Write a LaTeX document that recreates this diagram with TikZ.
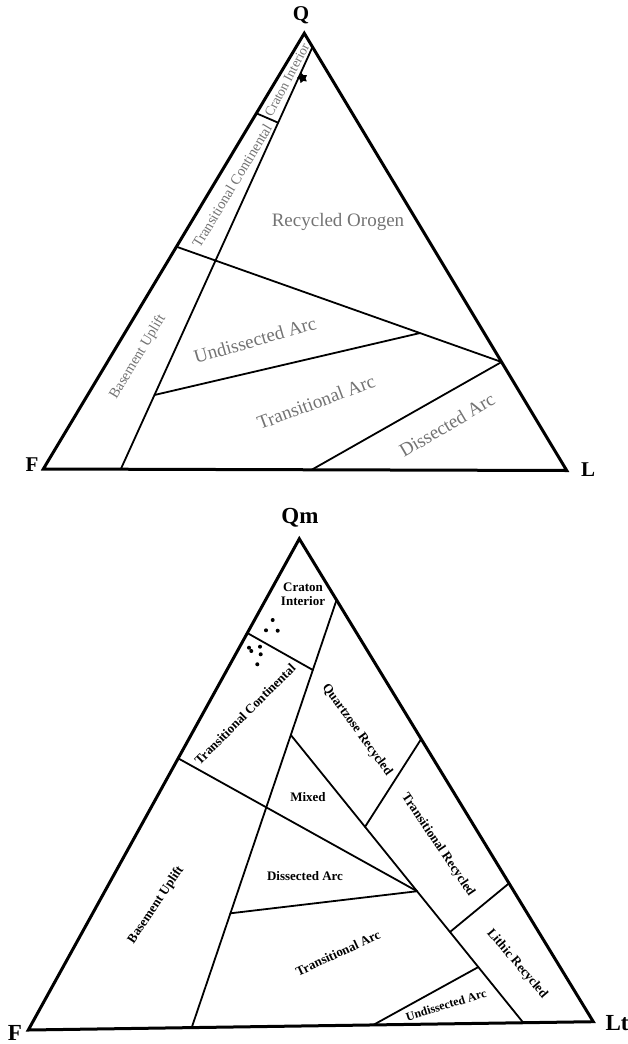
\documentclass[tikz,border=0pt]{standalone}
\usepackage{fontspec}
\setmainfont{Liberation Serif}
\usetikzlibrary{calc,shapes.geometric}
\begin{document}
\begin{tikzpicture}[x=1pt,y=-1pt,
  outer/.style={line width=3pt,line join=miter,line cap=round},
  inner/.style={line width=1.8pt,line cap=round},
  corner/.style={font=\fontsize{21}{21}\selectfont\bfseries, inner sep=0pt},
  glab/.style={text=black!55, inner sep=0pt, font=\fontsize{19}{19}\selectfont},
  gsmall/.style={text=black!55, inner sep=0pt, font=\fontsize{14.5}{14.5}\selectfont},
  blab/.style={inner sep=0pt, font=\fontsize{13}{14}\selectfont\bfseries, align=center},
  pt/.style={circle, fill=black, inner sep=0pt, minimum size=4pt}
]
\useasboundingbox (0,0) rectangle (628,1044);
% ---------------- top triangle (QFL) ----------------
\coordinate (F1) at (43.3,469);
\coordinate (L1) at (566.7,470.5);
\coordinate (Q1) at (304.3,33.3);
\coordinate (T1) at ($(Q1)!0.0313!(L1)$);
\coordinate (B1) at ($(F1)!0.148!(L1)$);
\coordinate (C1a) at ($(Q1)!0.1836!(F1)$);
\coordinate (C1b) at ($(T1)!0.1793!(B1)$);
\coordinate (R1a) at ($(Q1)!0.4898!(F1)$);
\coordinate (R1b) at ($(Q1)!0.7518!(L1)$);
\coordinate (U1a) at ($(T1)!0.8242!(B1)$);
\coordinate (U1b) at ($(R1a)!0.749!(R1b)$);
\coordinate (D1) at ($(F1)!0.5128!(L1)$);
\draw[inner] (T1) -- (B1);
\draw[inner] (C1a) -- (C1b);
\draw[inner] (R1a) -- (R1b);
\draw[inner] (U1a) -- (U1b);
\draw[inner] (R1b) -- (D1);
\draw[outer] (F1) -- (L1) -- (Q1) -- cycle;
\node[corner] (Qlab) at (301,15) {Q};
\node[corner] (Flab) at (32,465) {F};
\node[corner] (Llab) at (588,470) {L};
\node[gsmall, font=\fontsize{13.5}{13.5}\selectfont, rotate=62] (ci1) at (287,80) {Craton Interior};
\node[gsmall, rotate=59] (tc1) at (232,186) {Transitional Continental};
\node[glab] (ro1) at (338,222) {Recycled Orogen};
\node[gsmall, rotate=59] (bu1) at (138,357) {Basement Uplift};
\node[glab, rotate=16] (ua1) at (255,340) {Undissected Arc};
\node[glab, rotate=20.5] (ta1) at (316,402) {Transitional Arc};
\node[glab, rotate=30.5] (da1) at (447,425) {Dissected Arc};
\node[star, star points=5, star point ratio=1.8, fill=black, inner sep=0pt, minimum size=11pt, rotate=15] (s1) at (302.5,78) {};
% ---------------- bottom triangle (QmFLt) ----------------
\coordinate (F2) at (28.3,1030);
\coordinate (L2) at (593.3,1021.7);
\coordinate (Q2) at (299.3,538.8);
\coordinate (B2) at ($(F2)!0.2892!(L2)$);
\coordinate (T2) at ($(Q2)!0.1267!(L2)$);
\coordinate (C2a) at ($(Q2)!0.1918!(F2)$);
\coordinate (C2b) at ($(T2)!0.1637!(B2)$);
\coordinate (K2a) at ($(Q2)!0.4469!(F2)$);
\coordinate (M2) at ($(T2)!0.3157!(B2)$);
\coordinate (E2) at ($(F2)!0.8761!(L2)$);
\coordinate (J2) at ($(M2)!0.543!(E2)$);
\coordinate (P2a) at ($(Q2)!0.4146!(L2)$);
\coordinate (P2b) at ($(M2)!0.3192!(E2)$);
\coordinate (P3a) at ($(Q2)!0.7134!(L2)$);
\coordinate (P3b) at ($(M2)!0.6846!(E2)$);
\coordinate (G2a) at ($(T2)!0.7327!(B2)$);
\coordinate (H2a) at ($(F2)!0.6106!(L2)$);
\coordinate (H2b) at ($(M2)!0.8065!(E2)$);
\draw[inner] (T2) -- (B2);
\draw[inner] (C2a) -- (C2b);
\draw[inner] (K2a) -- (J2);
\draw[inner] (M2) -- (E2);
\draw[inner] (P2a) -- (P2b);
\draw[inner] (P3a) -- (P3b);
\draw[inner] (G2a) -- (J2);
\draw[inner] (H2a) -- (H2b);
\draw[outer] (F2) -- (L2) -- (Q2) -- cycle;
\node[corner, font=\fontsize{23}{23}\selectfont\bfseries] (Qmlab) at (300,518) {Qm};
\node[corner, font=\fontsize{23}{23}\selectfont\bfseries] (F2lab) at (15,1033) {F};
\node[corner, font=\fontsize{23}{23}\selectfont\bfseries] (Ltlab) at (617,1023) {Lt};
\node[blab] (ci2) at (303,594) {Craton\\Interior};
\node[blab, rotate=45] (tc2) at (245,714) {Transitional Continental};
\node[blab, rotate=-54] (qr2) at (357,730) {Quartzose Recycled};
\node[blab] (mx2) at (308,797) {Mixed};
\node[blab, rotate=-56] (tr2) at (438,845) {Transitional Recycled};
\node[blab] (da2) at (305,876) {Dissected Arc};
\node[blab, rotate=56] (bu2) at (156,905) {Basement Uplift};
\node[blab, rotate=25] (ta2) at (338,953) {Transitional Arc};
\node[blab, rotate=-49.5] (lr2) at (517,964) {Lithic Recycled};
\node[blab, font=\fontsize{12}{12}\selectfont\bfseries, rotate=17] (ua2) at (446,1005) {Undissected Arc};
\node[pt] (d1) at (272.7,620) {};
\node[pt] (d2) at (266,630.3) {};
\node[pt] (d3) at (277.7,630.7) {};
\node[pt] (d4) at (249,647.7) {};
\node[pt] (d5) at (251.3,651) {};
\node[pt] (d6) at (260,646.7) {};
\node[pt] (d7) at (260.7,654.3) {};
\node[pt] (d8) at (257.3,664.3) {};
\end{tikzpicture}
\end{document}
